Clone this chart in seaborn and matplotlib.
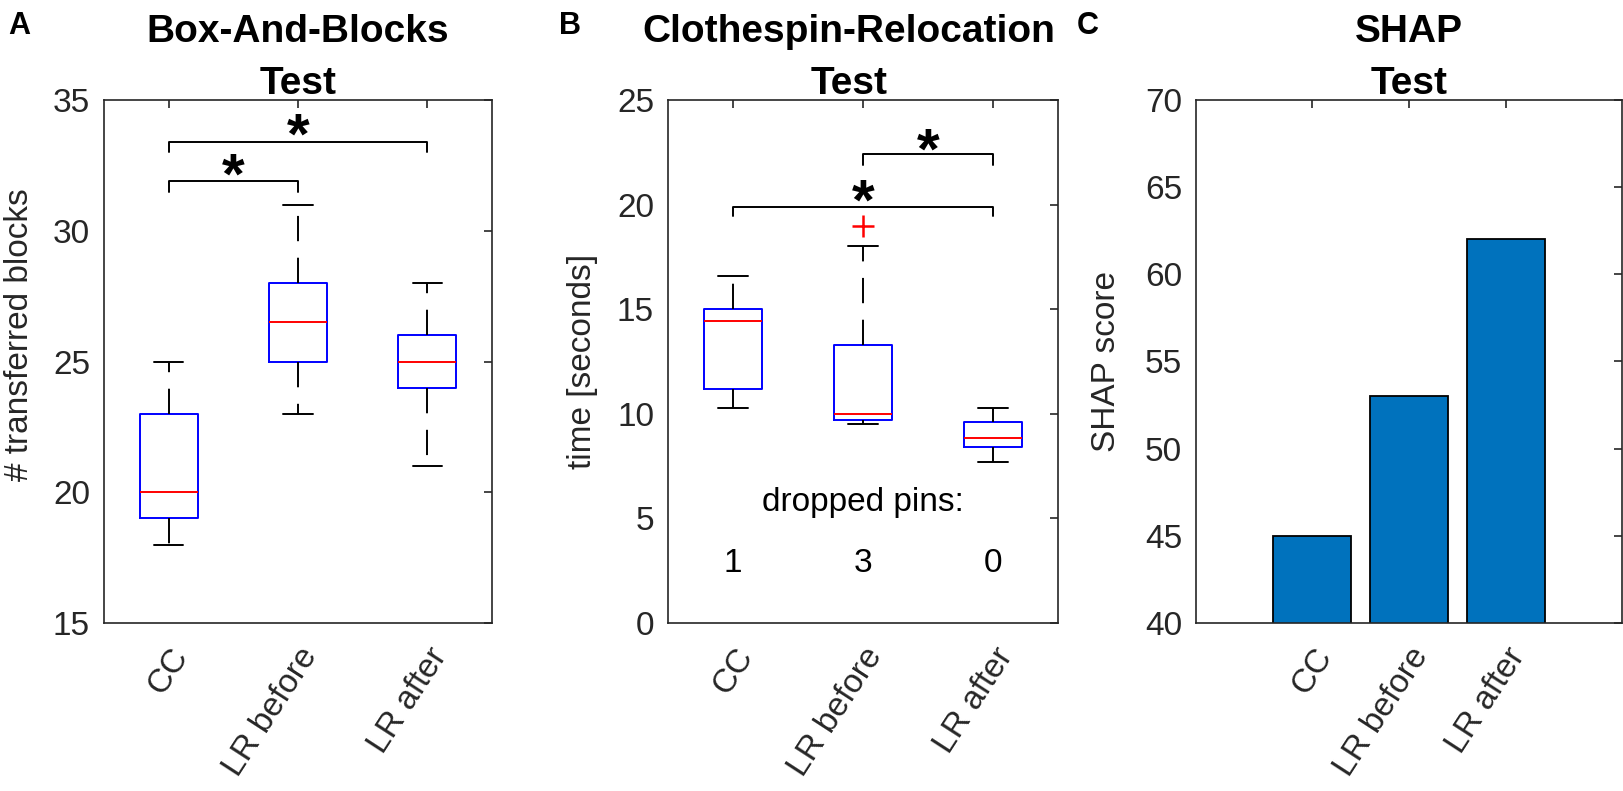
import matplotlib
matplotlib.use("Agg")
import matplotlib.pyplot as plt
import seaborn as sns
import pandas as pd

groups = ["CC", "LR before", "LR after"]

# Box-And-Blocks test: box summaries per group
bbt_low = [18, 23, 21]
bbt_q1 = [19, 25, 24]
bbt_med = [20, 26.5, 25]
bbt_q3 = [23, 28, 26]
bbt_high = [25, 31, 28]
bbt_fliers = [[], [], []]

# Clothespin-Relocation test: box summaries per group
crt_low = [10.3, 9.5, 7.7]
crt_q1 = [11.2, 9.7, 8.4]
crt_med = [14.45, 10.0, 8.85]
crt_q3 = [15.0, 13.3, 9.6]
crt_high = [16.6, 18.0, 10.3]
crt_fliers = [[], [19.0], []]
dropped_pins = [1, 3, 0]

# SHAP scores
shap_scores = [45, 53, 62]

DARK = "#262626"
W, H = 1624, 791


def box_stats(low, q1, med, q3, high, fliers):
    return [dict(whislo=a, q1=b, med=c, q3=d, whishi=e, fliers=f, label=g)
            for a, b, c, d, e, f, g in zip(low, q1, med, q3, high, fliers, groups)]


def add_axes(fig, x0, x1, y0=100, y1=623):
    return fig.add_axes([x0 / W, 1 - y1 / H, (x1 - x0) / W, (y1 - y0) / H])


def style_axes(ax):
    for s in ax.spines.values():
        s.set_visible(True)
        s.set_color(DARK)
        s.set_linewidth(1.2)
    ax.tick_params(direction="in", length=6, width=1.2, top=True, right=True,
                   labelsize=24, colors=DARK)
    ax.tick_params(axis="y", pad=10)
    ax.tick_params(axis="x", pad=14)
    plt.setp(ax.get_xticklabels(), rotation=57, ha="right", va="top",
             rotation_mode="anchor")


def draw_boxes(ax, stats):
    ax.bxp(stats, positions=range(len(stats)), widths=0.45, showfliers=True,
           boxprops=dict(color="#0000ff", linewidth=1.4),
           medianprops=dict(color="#ff0000", linewidth=1.4),
           whiskerprops=dict(color="black", linewidth=1.4, linestyle=(0, (13, 8.5))),
           capprops=dict(color="black", linewidth=1.4),
           flierprops=dict(marker="+", markeredgecolor="#ff0000", markersize=16,
                           markeredgewidth=1.8))
    ax.set_xlim(-0.5, len(stats) - 0.5)


def bracket(ax, x0, x1, y, drop, star_x, star_y):
    ax.plot([x0, x0, x1, x1], [y - drop, y, y, y - drop], color="black", lw=1.4)
    ax.annotate("*", (star_x, star_y), xytext=(0, -0.58 * 42),
                textcoords="offset points", ha="center", va="baseline",
                fontsize=42, fontweight="bold", color="black")


def titles(ax, line1, line2, xc=0.5):
    h = ax.get_position().height * H
    ax.text(xc, 1 + 58 / h, line1, transform=ax.transAxes, ha="center",
            va="baseline", fontsize=28, fontweight="bold", color="black")
    ax.text(xc, 1 + 6 / h, line2, transform=ax.transAxes, ha="center",
            va="baseline", fontsize=28, fontweight="bold", color="black")


def ylabel(ax, text, x, y):
    ax.set_ylabel(text, fontsize=24, color=DARK)
    lab = ax.yaxis.label
    lab.set_rotation_mode("anchor")
    lab.set_va("center")
    lab.set_ha("center")
    ax.yaxis.set_label_coords(x, y)


sns.set_theme(style="white")
plt.rcParams["font.family"] = ["Liberation Sans", "DejaVu Sans"]

fig = plt.figure(figsize=(W / 100, H / 100), dpi=100)

# A: Box-And-Blocks
ax1 = add_axes(fig, 104, 492)
draw_boxes(ax1, box_stats(bbt_low, bbt_q1, bbt_med, bbt_q3, bbt_high, bbt_fliers))
ax1.set_ylim(15, 35)
ax1.set_yticks([15, 20, 25, 30, 35])
ax1.set_xticks(range(3), groups)
bracket(ax1, 0, 2, 33.4, 0.4, 1, 34.25)
bracket(ax1, 0, 1, 31.9, 0.4, 0.5, 32.7)
titles(ax1, "Box-And-Blocks", "Test")
ylabel(ax1, "# transferred blocks", -0.2165, 0.551)
style_axes(ax1)

# B: Clothespin-Relocation
ax2 = add_axes(fig, 668, 1058)
draw_boxes(ax2, box_stats(crt_low, crt_q1, crt_med, crt_q3, crt_high, crt_fliers))
ax2.set_ylim(0, 25)
ax2.set_yticks([0, 5, 10, 15, 20, 25])
ax2.set_xticks(range(3), groups)
bracket(ax2, 0, 2, 19.9, 0.45, 1, 20.88)
bracket(ax2, 1, 2, 22.4, 0.5, 1.5, 23.35)
ax2.text(1, 5.75, "dropped pins:", ha="center", va="center", fontsize=24, color="black")
for i, n in enumerate(dropped_pins):
    ax2.text(i, 2.85, str(n), ha="center", va="center", fontsize=24, color="black")
titles(ax2, "Clothespin-Relocation", "Test", xc=0.464)
ylabel(ax2, "time [seconds]", -0.218, 0.5)
style_axes(ax2)

# C: SHAP
ax3 = add_axes(fig, 1196, 1622)
df = pd.DataFrame({"group": groups, "score": shap_scores})
sns.barplot(data=df, x="group", y="score", ax=ax3, color="#0072BD", saturation=1,
            width=0.8, edgecolor="black", linewidth=1.3)
ax3.set_xlim(-1.2, 3.2)
ax3.set_ylim(40, 70)
ax3.set_yticks([40, 45, 50, 55, 60, 65, 70])
ax3.set_xlabel("")
titles(ax3, "SHAP", "Test")
ylabel(ax3, "SHAP score", -0.209, 0.5)
style_axes(ax3)

# panel letters
for letter, x in [("A", 8), ("B", 559), ("C", 1077)]:
    fig.text(x / W, 1 - 26 / H, letter, ha="left", va="center", fontsize=22,
             fontweight="bold", color="black")

fig.savefig("out.png", dpi=100)
